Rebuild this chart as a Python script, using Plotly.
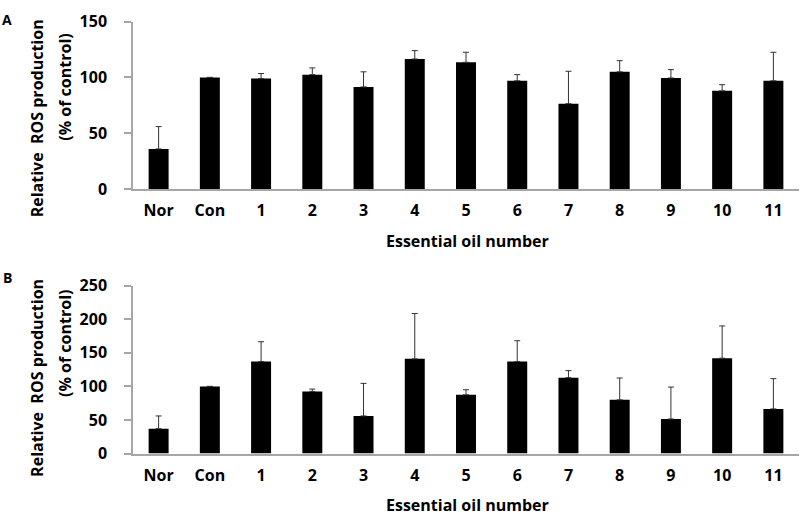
import plotly.graph_objects as go

categories = ["Nor", "Con", "1", "2", "3", "4", "5", "6", "7", "8", "9", "10", "11"]
values_a = [36, 100, 99, 102.5, 91.5, 116.5, 113.5, 97, 76.5, 105, 99.5, 88, 97]
errors_a = [20, None, 4.5, 6, 13.5, 7.5, 9, 5.5, 29, 10, 7.5, 5.5, 25.5]
values_b = [37, 100, 137, 92.5, 56, 141, 87.5, 137, 113, 80, 51.5, 142, 66.5]
errors_b = [19, None, 29.5, 3.5, 48.5, 67.5, 7.5, 31, 10.5, 32.5, 47.5, 48, 45]

W, H = 800, 523
FONT = "Open Sans"
AXIS_COLOR = "#a6a6a6"

def py(px):
    return 1 - px / H

fig = go.Figure()
for vals, errs, xa, ya in [(values_a, errors_a, "x", "y"), (values_b, errors_b, "x2", "y2")]:
    fig.add_trace(go.Bar(
        x=categories, y=vals, xaxis=xa, yaxis=ya,
        marker=dict(color="black", line=dict(width=0)),
        error_y=dict(type="data", array=errs, symmetric=False, arrayminus=[0]*len(errs),
                     color="#333333", thickness=1, width=3),
        showlegend=False,
    ))

tickfont = dict(family=FONT, size=16, color="black", weight="bold")
xcommon = dict(type="category", range=[-0.5, 12.5], showline=True, linecolor=AXIS_COLOR,
               linewidth=1.5, ticks="", showgrid=False, zeroline=False, tickfont=tickfont,
               ticklabelstandoff=6, domain=[133 / W, 799 / W], fixedrange=True)
ycommon = dict(showline=True, linecolor=AXIS_COLOR, linewidth=1.5, ticks="outside", ticklen=7,
               tickcolor=AXIS_COLOR, tickwidth=1.5, showgrid=False, zeroline=False,
               tickfont=tickfont, ticklabelstandoff=14)

fig.update_layout(
    width=W, height=H,
    margin=dict(l=0, r=0, t=0, b=0),
    paper_bgcolor="white", plot_bgcolor="white",
    bargap=0.61,
    xaxis=dict(**xcommon, anchor="y"),
    xaxis2=dict(**xcommon, anchor="y2"),
    yaxis=dict(**ycommon, anchor="x", range=[0, 150], tickvals=[0, 50, 100, 150],
               domain=[py(186), py(11)]),
    yaxis2=dict(**ycommon, anchor="x2", range=[0, 250], tickvals=[0, 50, 100, 150, 200, 250],
                domain=[py(462), py(286.7)]),
)

labfont = dict(family=FONT, size=16, color="black", weight="bold")
ann = [
    dict(text="A", x=7 / W, y=py(9), font=dict(family=FONT, size=14, color="black", weight="bold")),
    dict(text="B", x=7 / W, y=py(278), font=dict(family=FONT, size=14, color="black", weight="bold")),
    dict(text="Relative  ROS production", x=37 / W, y=py(112), textangle=-90),
    dict(text="(% of control)", x=65 / W, y=py(80), textangle=-90),
    dict(text="Relative  ROS production", x=37 / W, y=py(383), textangle=-90),
    dict(text="(% of control)", x=65 / W, y=py(347.5), textangle=-90),
    dict(text="Essential oil number", x=467 / W, y=py(240)),
    dict(text="Essential oil number", x=467 / W, y=py(516)),
]
for a in ann:
    a.setdefault("font", labfont)
    fig.add_annotation(xref="paper", yref="paper", showarrow=False, xanchor="center",
                       yanchor="middle", **a)

fig.write_html("out.html")
